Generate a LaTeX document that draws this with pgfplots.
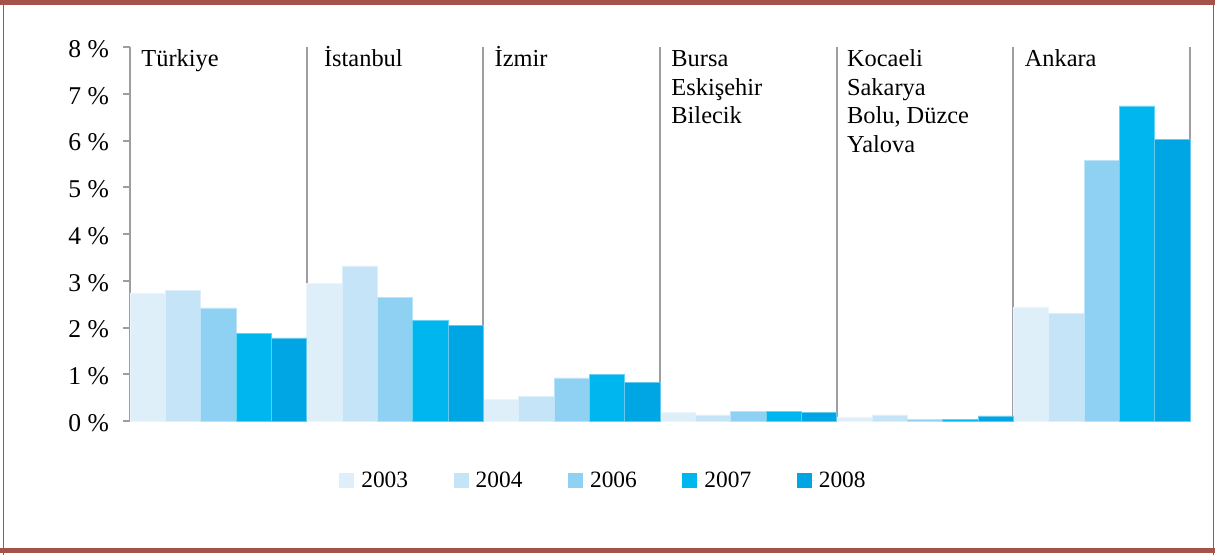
\documentclass[border=0pt]{standalone}
\usepackage{pgfplots}
\pgfplotsset{compat=1.18}
\usepackage{fontspec}
\setmainfont{Liberation Serif}
\definecolor{frame}{HTML}{A5524A}
\definecolor{ax}{HTML}{9E9EA2}
\definecolor{cA}{HTML}{DEEFFA}
\definecolor{cB}{HTML}{C6E4F7}
\definecolor{cC}{HTML}{8FD1F3}
\definecolor{cD}{HTML}{00B6EE}
\definecolor{cE}{HTML}{00A6E4}
\pgfplotsset{sqlegend/.style={legend image code/.code={\fill[##1, draw=none] (0bp,-3.7bp) rectangle (7.5bp,3.7bp); \path[draw=none] (0,0) -- (9bp,0);}}}
\begin{document}
\begin{tikzpicture}[x=1bp,y=1bp]
\path[use as bounding box] (0,0) rectangle (607.5,277.5);
\fill[frame] (0,275.2) rectangle (607.5,277.5);
\fill[frame] (0,0.8) rectangle (607.5,3.6);
\draw[frame, line width=0.7bp] (1.8,0) -- (1.8,277.5);
\draw[frame, line width=0.7bp] (606.6,0) -- (606.6,277.5);
\begin{axis}[
  at={(65bp,67bp)}, anchor=origin,
  scale only axis, width=530bp, height=187bp,
  xmin=0, xmax=30, ymin=0, ymax=8,
  axis x line=bottom, axis y line=left,
  axis line style={ax, line width=1bp, -},
  xtick={5,10,15,20,25,30}, xticklabels={}, major x tick style={draw=none},
  xmajorgrids, major grid style={ax, line width=1bp},
  ytick={0,...,8},
  /pgf/number format/assume math mode=true,
  yticklabel={\pgfmathprintnumber{\tick}~\%},
  y tick style={ax, line width=1bp},
  tick align=outside, major tick length=3.5bp,
  yticklabel style={font=\fontsize{12.8bp}{15bp}\selectfont, xshift=-3.5bp, yshift=-1bp},
  ybar, bar width=1, bar shift=0pt,
  legend style={draw=none, at={(0.4476,-0.160)}, anchor=center,
    legend columns=5, font=\fontsize{11.7bp}{14bp}\selectfont,
    /tikz/every odd column/.append style={column sep=0bp},
    /tikz/every even column/.append style={column sep=20.8bp},
    legend cell align=left},
  sqlegend,
  clip=false,
]
\addplot[fill=cA, draw=cA!60!white, line width=0.25bp] coordinates {(0.5,2.74) (5.5,2.95) (10.5,0.47) (15.5,0.19) (20.5,0.09) (25.5,2.44)};
\addplot[fill=cB, draw=cB!60!white, line width=0.25bp] coordinates {(1.5,2.80) (6.5,3.32) (11.5,0.53) (16.5,0.13) (21.5,0.13) (26.5,2.31)};
\addplot[fill=cC, draw=cC!60!white, line width=0.25bp] coordinates {(2.5,2.42) (7.5,2.65) (12.5,0.92) (17.5,0.21) (22.5,0.03) (27.5,5.58)};
\addplot[fill=cD, draw=cD!60!white, line width=0.25bp] coordinates {(3.5,1.88) (8.5,2.16) (13.5,1.00) (18.5,0.21) (23.5,0.04) (28.5,6.74)};
\addplot[fill=cE, draw=cE!60!white, line width=0.25bp] coordinates {(4.5,1.78) (9.5,2.05) (14.5,0.83) (19.5,0.19) (24.5,0.11) (29.5,6.03)};
\legend{2003,2004,2006,2007,2008}
\begin{scope}[every node/.style={anchor=base west, inner sep=0pt,
   font=\fontsize{12.2bp}{14bp}\selectfont}]
\node at ([xshift=5.5bp,yshift=-9.9bp]axis cs:0,8) {Türkiye};
\node at ([xshift=8.5bp,yshift=-9.9bp]axis cs:5,8) {İstanbul};
\node at ([xshift=5.5bp,yshift=-9.9bp]axis cs:10,8) {İzmir};
\node at ([xshift=5.5bp,yshift=-9.9bp]axis cs:15,8) {Bursa};
\node at ([xshift=5.5bp,yshift=-24.1bp]axis cs:15,8) {Eskişehir};
\node at ([xshift=5.5bp,yshift=-38.3bp]axis cs:15,8) {Bilecik};
\node at ([xshift=5bp,yshift=-9.9bp]axis cs:20,8) {Kocaeli};
\node at ([xshift=5bp,yshift=-24.1bp]axis cs:20,8) {Sakarya};
\node at ([xshift=5bp,yshift=-38.3bp]axis cs:20,8) {Bolu, Düzce};
\node at ([xshift=5bp,yshift=-52.5bp]axis cs:20,8) {Yalova};
\node at ([xshift=5.5bp,yshift=-9.9bp]axis cs:25,8) {Ankara};
\end{scope}
\end{axis}
\end{tikzpicture}
\end{document}
